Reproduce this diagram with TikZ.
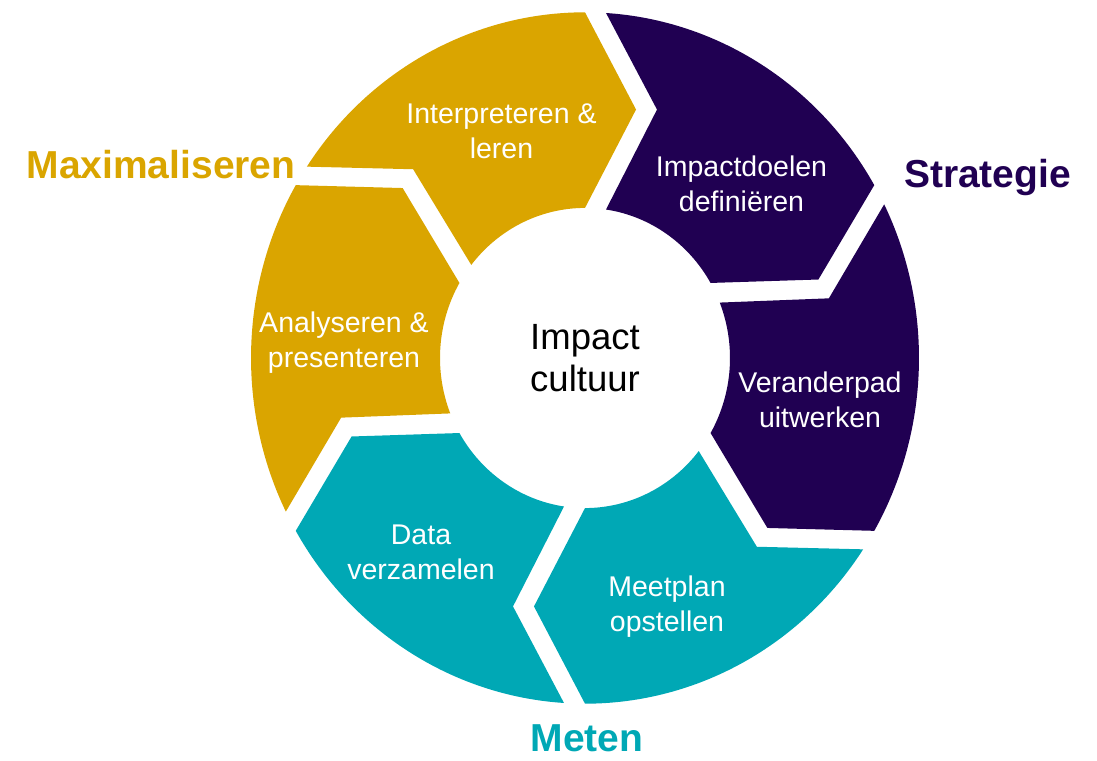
\documentclass[tikz,border=0pt]{standalone}
\usepackage{fontspec}
\setmainfont{Liberation Sans}
\definecolor{igold}{HTML}{DAA500}
\definecolor{ipurple}{HTML}{200052}
\definecolor{iteal}{HTML}{00A8B5}
% one chevron segment of the ring, from boundary angle #1 clockwise to #1-60
\newcommand{\ringseg}[2]{%
  \fill[#2] (#1-3.61:334) -- (#1-16.70:250.6) -- (#1-8.33:145)
    arc[start angle=#1-8.33, end angle=#1-60, radius=145]
    -- (#1-72.0:245.4) -- (#1-60:334)
    arc[start angle=#1-60, end angle=#1-3.61, radius=334] -- cycle;}
\begin{document}
\begin{tikzpicture}[x=1pt,y=1pt,
  seglabel/.style={text=white, font=\fontsize{28.5}{34.5}\selectfont, align=center, anchor=base, inner sep=0pt},
  centrelabel/.style={text=black, font=\fontsize{36.5}{42}\selectfont, align=center, anchor=base, inner sep=0pt},
  phaselabel/.style={font=\fontsize{39}{45}\selectfont\bfseries, anchor=base, inner sep=0pt}]
\useasboundingbox (0,0) rectangle (1097,760);
\begin{scope}[shift={(585,402)}, x=1pt, y=1.035pt]
  \ringseg{90}{ipurple}
  \ringseg{30}{ipurple}
  \ringseg{-30}{iteal}
  \ringseg{-90}{iteal}
  \ringseg{-150}{igold}
  \ringseg{150}{igold}
\end{scope}
\node[seglabel] (interp) at (501.5,601.5) {Interpreteren \&\\leren};
\node[seglabel] (doelen) at (741.5,548.5) {Impactdoelen\\definiëren};
\node[seglabel] (pad) at (820,332.5) {Veranderpad\\uitwerken};
\node[seglabel] (meetplan) at (667,128.5) {Meetplan\\opstellen};
\node[seglabel] (data) at (421,180.5) {Data\\verzamelen};
\node[seglabel] (analyse) at (344,392.5) {Analyseren \&\\presenteren};
\node[centrelabel] (centre) at (585,368) {Impact\\cultuur};
\node[phaselabel, text=igold] (max) at (161,581) {Maximaliseren};
\node[phaselabel, text=ipurple] (strat) at (987.5,572) {Strategie};
\node[phaselabel, text=iteal] (meten) at (587,9) {Meten};
\end{tikzpicture}
\end{document}
